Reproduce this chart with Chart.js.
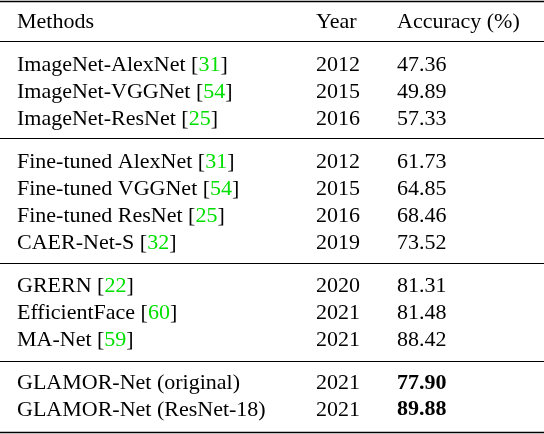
<!DOCTYPE html>
<html><head><meta charset="utf-8">
<script src="https://cdn.jsdelivr.net/npm/chart.js@4/dist/chart.umd.min.js"></script>
<style>html,body{margin:0;padding:0;background:#fff}</style>
</head><body>
<canvas id="c" width="544" height="434"></canvas>
<script>
const headers = ["Methods", "Year", "Accuracy (%)"];
const methods = ["ImageNet-AlexNet","ImageNet-VGGNet","ImageNet-ResNet","Fine-tuned AlexNet","Fine-tuned VGGNet","Fine-tuned ResNet","CAER-Net-S","GRERN","EfficientFace","MA-Net","GLAMOR-Net (original)","GLAMOR-Net (ResNet-18)"];
const citations = ["31","54","25","31","54","25","32","22","60","59","",""];
const years = [2012,2015,2016,2012,2015,2016,2019,2020,2021,2021,2021,2021];
const accuracy = ["47.36","49.89","57.33","61.73","64.85","68.46","73.52","81.31","81.48","88.42","77.90","89.88"];
const groups = [1,1,1,2,2,2,2,3,3,3,4,4];
const boldRows = [10,11];

const rowY = i => (i+1) + 0.6*groups[i];
const sepY = [-0.78, 0.7, 4.3, 8.95, 12.6, 15.22];
const colX = [17, 316, 397];

const tablePlugin = {
  id:'table',
  afterDraw(chart){
    const ctx = chart.ctx, x = chart.scales.x, y = chart.scales.y;
    ctx.save();
    ctx.strokeStyle='#000';
    sepY.forEach((v,k)=>{
      ctx.lineWidth = (k===0||k===sepY.length-1)?1.6:1;
      const p = Math.round(y.getPixelForValue(v))+0.5;
      ctx.beginPath(); ctx.moveTo(x.getPixelForValue(0),p); ctx.lineTo(x.getPixelForValue(544),p); ctx.stroke();
    });
    ctx.textBaseline='middle';
    const font = b => (b?'bold ':'')+'22px "Liberation Serif", "DejaVu Serif", serif';
    ctx.font=font(false); ctx.fillStyle='#000';
    const hy = y.getPixelForValue(0);
    headers.forEach((h,c)=>ctx.fillText(h, x.getPixelForValue(colX[c]), hy));
    methods.forEach((m,i)=>{
      const py = y.getPixelForValue(rowY(i));
      ctx.font=font(false); ctx.fillStyle='#000';
      let px = x.getPixelForValue(colX[0]);
      ctx.fillText(m, px, py);
      if(citations[i]){
        px += ctx.measureText(m+' ').width;
        ctx.fillText('[',px,py); px+=ctx.measureText('[').width;
        ctx.fillStyle='#00e000'; ctx.fillText(citations[i],px,py); px+=ctx.measureText(citations[i]).width;
        ctx.fillStyle='#000'; ctx.fillText(']',px,py);
      }
      ctx.fillText(String(years[i]), x.getPixelForValue(colX[1]), py);
      ctx.font=font(boldRows.includes(i));
      ctx.fillText(accuracy[i], x.getPixelForValue(colX[2]), py);
    });
    ctx.restore();
  }
};

new Chart(document.getElementById('c'),{
  type:'scatter',
  data:{datasets:[{data:[],pointRadius:0}]},
  options:{
    responsive:false, animation:false,
    layout:{padding:0},
    plugins:{legend:{display:false},tooltip:{enabled:false}},
    scales:{
      x:{type:'linear',min:0,max:544,display:false},
      y:{type:'linear',min:-0.82,max:15.3,reverse:true,display:false}
    }
  },
  plugins:[tablePlugin]
});
</script>
</body></html>
